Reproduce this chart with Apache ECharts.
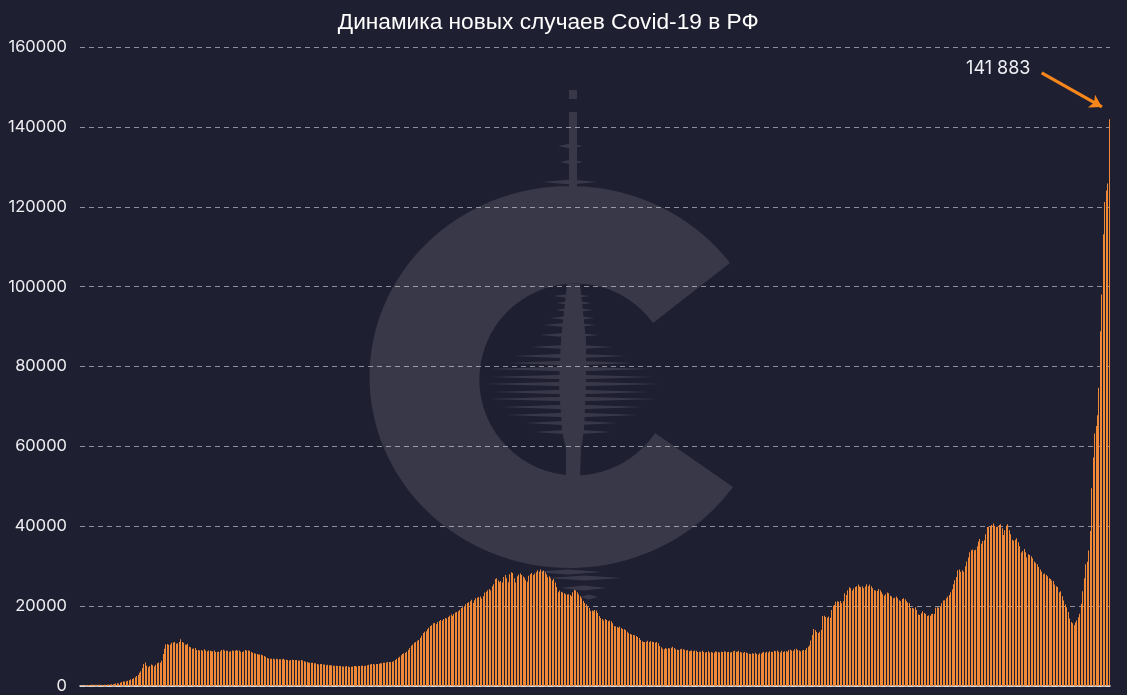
<!DOCTYPE html>
<html><head><meta charset="utf-8">
<style>html,body{margin:0;padding:0;background:#1f1f32}#c{width:1127px;height:695px}</style>
<script src="https://cdn.jsdelivr.net/npm/echarts@6/dist/echarts.min.js"></script>
</head><body><div id="c"></div>
<script>
const chartTitle = 'Динамика новых случаев Covid-19 в РФ';
const yTicks = [0,20000,40000,60000,80000,100000,120000,140000,160000];
const dailyCases = [
60,120,150,200,250,260,280,300,300,320,
300,300,320,300,300,280,300,320,300,350,
400,450,420,500,650,700,600,800,1000,1100,
1100,1200,1300,1450,1600,1750,1950,2200,2500,2750,
3300,3700,4500,5500,5900,5100,4700,5000,5400,5200,
4900,5300,5700,5900,5800,6300,8000,9300,10400,10500,
10300,10400,10800,10900,11000,10600,10700,11000,11700,11000,
10800,10400,10300,10600,9800,9700,9300,9400,9500,9000,
9000,8900,9000,8800,9200,8900,8700,8900,8800,8700,
8700,8900,8500,8500,8600,8700,9000,9100,8900,8800,
8800,8600,8700,8900,8800,8800,9000,8900,8900,8600,
8500,8700,9000,8900,8900,8800,8500,8300,8200,8100,
8000,7900,7900,7800,7700,7500,7300,7000,6900,6800,
6800,6800,6700,6800,6700,6700,6700,6700,6800,6600,
6600,6500,6400,6500,6600,6500,6500,6500,6300,6400,
6500,6400,6200,6100,6000,5900,5800,5800,5800,5700,
5700,5500,5400,5500,5500,5400,5400,5200,5300,5200,
5200,5200,5100,5100,5100,5000,5000,5000,4900,4900,
4900,5000,4900,4700,4800,4900,5000,5000,4900,5000,
5000,5100,5100,5000,5100,5200,5300,5400,5500,5500,
5400,5500,5500,5600,5700,5700,5800,5800,5900,6000,
6000,6000,6100,6200,6500,6800,7100,7300,7700,8000,
8200,8300,8600,9000,9500,10100,10400,10800,11000,11300,
11500,12000,12600,13300,13600,13700,14200,14600,15000,15200,
15700,15800,15500,16000,16300,16500,16400,16800,17000,16900,
17300,17600,17900,17500,18000,18400,18500,18700,19000,19500,
19700,20000,20500,20800,21000,21200,21600,20800,21500,22000,
22100,22300,22400,21900,22500,23400,23600,24000,24300,23900,
25000,25500,26800,27000,26400,26000,26300,25900,27300,27800,
27000,26000,28000,28500,28300,27000,25900,27500,27900,28200,
27800,27400,27100,26500,26100,27600,28000,28300,27800,28200,
28500,29000,28600,29200,28700,28900,28400,27900,27200,27500,
27000,26400,26800,25900,24800,23500,23900,23600,23400,23200,
23000,22900,23000,22800,22500,23500,24100,23900,23500,22900,
22500,22000,21300,20800,20500,20000,19500,18800,18900,18700,
19000,18900,18300,17500,17000,16800,16400,16800,16500,16200,
16400,16200,15700,15000,14900,14800,14600,14900,14500,14300,
14200,14000,13600,13200,13000,12900,12800,12700,12500,12300,
12000,11500,11200,11000,11000,11100,11300,11000,11200,11100,
11000,10800,11000,10700,10000,9700,9300,9200,9500,9300,
9500,9400,9600,9800,9500,9200,9100,9000,9200,9300,
9200,9100,8900,9000,8700,8800,8900,8700,8900,8800,
8500,8600,8600,8800,8500,8400,8500,8700,8400,8500,
8400,8300,8700,8600,8500,8400,8600,8500,8700,8600,
8500,8600,8400,8500,8700,8800,8600,8600,8800,8500,
8400,8300,8500,8400,8200,8100,8000,8200,8100,8300,
8000,7900,8200,8100,8400,8500,8300,8600,8400,8700,
8600,8500,8800,8700,8900,8600,8400,8800,8500,8700,
8700,8600,9000,9100,8900,8800,9200,9300,9000,8900,
8700,8900,9000,9000,9500,9800,10200,11400,12800,14300,
14000,13500,13300,13600,14000,17500,17600,17300,17100,17400,
17100,19000,20100,20300,21100,21200,21100,21300,20700,21200,
23200,22800,24000,24700,24500,23900,24400,24800,25000,25400,
24900,24800,25000,24500,24900,25500,25000,25400,25000,24500,
24000,23900,23800,24300,24000,23500,23000,22600,23000,23400,
23200,22600,22400,22000,22100,22400,22000,21500,21200,21800,
22000,21700,21200,20900,20800,19500,19500,19400,19700,19000,
17900,17800,18200,18700,18300,18000,17500,17700,17600,18000,
18100,18000,19600,19700,19600,20000,20700,21400,21500,22000,
22400,22800,23500,24200,25500,26500,27300,29000,29200,28600,
29000,28600,30000,31200,32200,33500,34000,34200,34000,34100,
35000,36200,36800,35600,36300,36500,38000,39800,39900,40000,
40300,40700,40100,39800,39900,40300,40500,39500,37800,39000,
40100,40500,39000,38000,36600,36400,36600,37000,36000,35000,
33400,33800,34300,33500,32200,33000,32800,32500,32000,31200,
30800,30500,29800,29200,28600,28000,28200,27800,27500,27000,
26800,26400,26300,25400,25000,24800,23500,23700,22500,21400,
20400,19700,18500,16900,16000,15700,15200,15900,16400,17200,
18100,20600,23700,27000,30500,31100,33900,38800,49500,57200,
63200,65100,67800,74700,88800,98000,113100,121200,124100,125800,141883
];
const categories = dailyCases.map((_, i) => String(i));
const peakValue = Math.max(...dailyCases);
const peakIndex = dailyCases.indexOf(peakValue);
const peakLabel = String(peakValue).replace(/(\d)(?=(\d{3})+$)/g, '$1 ');

// decorative watermark (page artwork, not data)
const streaks = [[296,553,590],[303,556,592],[310,555,593],[318,550,595],[325,543,597],[335,540,600],[347,530,613],[356,513,627],[363,508,633],[369,488,652],[377,490,653],[384,483,662],[392,493,650],[399,487,658],[407,500,645],[415,505,640],[423,525,618],[432,533,612],[572,533,603],[578,547,622],[588,560,607],[597,580,598],[146,558,583],[162,560,583],[182,542,598]];
let wm = 'M0 0L0.01 0L0.01 0.01ZM1127 695L1127 694.99L1126.99 694.99Z';
wm += 'M730 263A200 191 0 1 0 733 487L655 433A96 96 0 1 1 653 323Z';
wm += 'M569 90L569 99L577 99L577 90ZM569 112L569 190L577 190L577 112Z';
wm += 'M567 284L561 340L559 385L562 430L566 450L566 478L580 478L581 450L584 430L586 385L586 340L580 284Z';
streaks.forEach(([y,l,r]) => { const m=(l+r)/2; wm += `M${l} ${y}L${m} ${y+2.6}L${r} ${y}L${m} ${y-2.6}Z`; });

const chart = echarts.init(document.getElementById('c'), null, {renderer:'canvas'});
chart.setOption({
  animation:false,
  backgroundColor:'#1f1f32',
  title:{text:chartTitle,left:'48.2%',top:6,textAlign:'center',textStyle:{color:'#fff',fontFamily:'Liberation Sans',fontSize:22.7,fontWeight:'normal'}},
  grid:{left:80,right:17,top:47,bottom:9},
  xAxis:{type:'category',data:categories,boundaryGap:true,axisTick:{show:false},axisLabel:{show:false},axisLine:{lineStyle:{color:'#f2f2f2',width:1.5}}},
  yAxis:{type:'value',min:0,max:160000,interval:20000,
    axisLine:{show:false},axisTick:{show:false},
    axisLabel:{color:'#eeeef2',fontFamily:'Inter',fontSize:16.5,margin:13,formatter:v=>String(v)},
    splitLine:{lineStyle:{color:'rgba(255,255,255,0.5)',type:[5,4],width:1}}},
  series:[{type:'custom',coordinateSystem:'cartesian2d',encode:{x:0,y:1},z:2,
    data:dailyCases.map((v,i)=>[i,v]),
    renderItem:function(params,api){
      const top=api.coord([api.value(0),api.value(1)]);
      const base=api.coord([api.value(0),0]);
      // whole-pixel columns, as in the reference
      return {type:'rect',shape:{x:Math.round(top[0]-0.5),y:top[1],width:1,height:base[1]-top[1]},
        style:{fill:'#f68b38',opacity:0.97}};
    },
    markLine:{silent:true,symbol:['none','arrow'],symbolSize:[11,12],animation:false,
      lineStyle:{color:'#f7861b',width:3.2,type:'solid'},label:{show:false},
      data:[[{coord:[654,153500]},{coord:[695,145000]}]]},
    markPoint:{silent:true,symbol:'circle',symbolSize:0,animation:false,
      data:[{coord:[peakIndex,peakValue],
        label:{show:true,position:'inside',offset:[-111,-51],formatter:peakLabel,color:'#f0f0f6',fontFamily:'Inter',fontSize:18}}]}
  },{type:'custom',coordinateSystem:'none',silent:true,z:50,data:[[0]],
    renderItem:function(){return {type:'path',silent:true,
      shape:{pathData:wm,x:0,y:0,width:1127,height:695,layout:'cover'},
      style:{fill:'rgba(255,255,255,0.115)'}};}
  }]
});
</script></body></html>
